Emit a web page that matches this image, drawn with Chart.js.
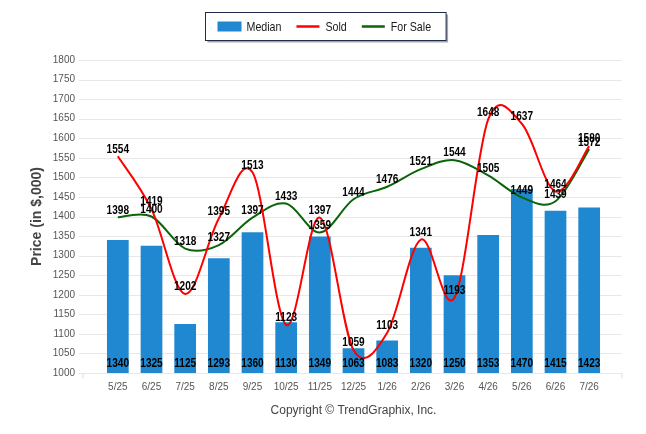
<!DOCTYPE html>
<html lang="en">
<head>
<meta charset="UTF-8">
<title>Price chart</title>
<style>
    html, body { margin: 0; padding: 0; background: #fff; }
    #caja { width: 646px; height: 434px; }
</style>
</head>
<body>
<div id="caja"><canvas id="grafica"></canvas></div>
<script src="https://cdn.jsdelivr.net/npm/chart.js"></script>
<script>
    // datos
    const meses = ['5/25', '6/25', '7/25', '8/25', '9/25', '10/25', '11/25', '12/25', '1/26', '2/26', '3/26', '4/26', '5/26', '6/26', '7/26'];
    const mediana = [1340, 1325, 1125, 1293, 1360, 1130, 1349, 1063, 1083, 1320, 1250, 1353, 1470, 1415, 1423];
    const vendidas = [1554, 1419, 1202, 1395, 1513, 1123, 1397, 1059, 1103, 1341, 1193, 1648, 1637, 1464, 1580];
    const enVenta = [1398, 1400, 1318, 1327, 1397, 1433, 1359, 1444, 1476, 1521, 1544, 1505, 1449, 1439, 1572];
    const yMin = 1000, yMax = 1800, yPaso = 50;

    const fuente = '"Liberation Sans", Arial, sans-serif';

    // texto algo comprimido (el original usa una letra estrecha)
    function textoEstrecho(ctx, txt, x, y, f) {
        ctx.save();
        ctx.translate(x, y);
        ctx.scale(f, 1);
        ctx.fillText(txt, 0, 0);
        ctx.restore();
    }

    // curva tipo catmull-rom: el original se pasa mas en los picos que la de Chart.js
    const curva = {
        id: 'curva',
        beforeDatasetDraw(chart, args) {
            const meta = args.meta;
            if (meta.type !== 'line') return;
            meta.dataset.updateControlPoints(chart.chartArea, 'x');
            const pts = meta.data;
            const n = pts.length;
            for (let i = 0; i < n; i++) {
                const a = pts[Math.max(i - 1, 0)];
                const b = pts[Math.min(i + 1, n - 1)];
                const dx = (b.x - a.x) / 6, dy = (b.y - a.y) / 6;
                pts[i].cp1x = pts[i].x - dx;
                pts[i].cp1y = pts[i].y - dy;
                pts[i].cp2x = pts[i].x + dx;
                pts[i].cp2y = pts[i].y + dy;
            }
        }
    };

    // lineas de la cuadricula un poco mas largas que el area
    const cuadricula = {
        id: 'cuadricula',
        beforeDatasetsDraw(chart) {
            const {ctx, chartArea} = chart;
            const y = chart.scales.y;
            const x0 = chartArea.left - 22, x1 = chartArea.right + 16;
            ctx.save();
            ctx.strokeStyle = '#e8e8e8';
            ctx.lineWidth = 1;
            for (let v = yMin; v <= yMax; v += yPaso) {
                const py = Math.round(y.getPixelForValue(v)) + 0.5;
                ctx.beginPath();
                ctx.moveTo(x0, py);
                ctx.lineTo(x1, py);
                ctx.stroke();
            }
            const pb = Math.round(chartArea.bottom) + 0.5;
            ctx.strokeStyle = '#dcdcdc';
            ctx.beginPath();
            ctx.moveTo(x0 + 4, pb); ctx.lineTo(x0 + 4, pb + 5);
            ctx.moveTo(x1, pb); ctx.lineTo(x1, pb + 5);
            ctx.stroke();
            ctx.restore();
        }
    };

    // numeros sobre barras y puntos
    const etiquetas = {
        id: 'etiquetas',
        afterDatasetsDraw(chart) {
            const {ctx, chartArea} = chart;
            ctx.save();
            ctx.font = 'bold 12px ' + fuente;
            ctx.fillStyle = '#000';
            ctx.textAlign = 'center';
            ctx.textBaseline = 'middle';
            chart.data.datasets.forEach((ds, i) => {
                const meta = chart.getDatasetMeta(i);
                meta.data.forEach((el, j) => {
                    const py = ds.type === 'bar' ? chartArea.bottom - 9 : el.y - 7;
                    textoEstrecho(ctx, String(ds.data[j]), el.x, py, 0.84);
                });
            });
            ctx.restore();
        }
    };

    // leyenda con marco, como en el original
    const leyenda = {
        id: 'leyenda',
        afterDraw(chart) {
            const ctx = chart.ctx;
            const f = 0.82;
            ctx.save();
            ctx.font = '13px ' + fuente;
            const items = chart.data.datasets.map(ds => ({
                texto: ds.label,
                tipo: ds.type,
                color: ds.type === 'bar' ? ds.backgroundColor : ds.borderColor,
                ancho: ctx.measureText(ds.label).width * f
            }));
            let total = 12 + 15;
            items.forEach((it, k) => { total += 29 + it.ancho + (k < items.length - 1 ? 15 : 0); });
            const bx = Math.round(325 - total / 2) + 0.5, by = 12.5, bh = 28;
            ctx.fillStyle = 'rgba(0,0,0,0.35)';
            ctx.fillRect(bx + 2, by + 2, total, bh);
            ctx.fillStyle = '#fff';
            ctx.fillRect(bx, by, total, bh);
            ctx.strokeStyle = '#1d2b4a';
            ctx.lineWidth = 1;
            ctx.strokeRect(bx, by, total, bh);
            let x = bx + 12;
            const cy = by + bh / 2;
            items.forEach(it => {
                if (it.tipo === 'bar') {
                    ctx.fillStyle = it.color;
                    ctx.fillRect(x, cy - 5, 24, 10);
                } else {
                    ctx.strokeStyle = it.color;
                    ctx.lineWidth = 2.5;
                    ctx.beginPath();
                    ctx.moveTo(x, cy);
                    ctx.lineTo(x + 23, cy);
                    ctx.stroke();
                }
                ctx.fillStyle = '#1a1a1a';
                ctx.textBaseline = 'middle';
                ctx.textAlign = 'left';
                textoEstrecho(ctx, it.texto, x + 29, cy + 1, f);
                x += 29 + it.ancho + 15;
            });
            ctx.restore();
        }
    };

    const ctx = document.getElementById('grafica').getContext('2d');
    const grafica = new Chart(ctx, {
        data: {
            labels: meses,
            datasets: [
                {
                    type: 'bar',
                    label: 'Median',
                    data: mediana,
                    backgroundColor: '#1f88d0',
                    borderWidth: 0,
                    barPercentage: 0.645,
                    categoryPercentage: 1,
                    order: 3
                },
                {
                    type: 'line',
                    label: 'Sold',
                    data: vendidas,
                    borderColor: '#ff0000',
                    borderWidth: 2,
                    pointRadius: 0,
                    tension: 0.4,
                    order: 1
                },
                {
                    type: 'line',
                    label: 'For Sale',
                    data: enVenta,
                    borderColor: '#0a640a',
                    borderWidth: 2,
                    pointRadius: 0,
                    tension: 0.4,
                    order: 2
                }
            ]
        },
        options: {
            responsive: true,
            maintainAspectRatio: false,
            animation: false,
            layout: { padding: { top: 60, right: 40, left: 0, bottom: 0 } },
            plugins: {
                legend: { display: false },
                tooltip: { enabled: false }
            },
            scales: {
                x: {
                    grid: { display: false, drawTicks: false },
                    border: { display: false },
                    ticks: { color: '#555', font: { family: fuente, size: 10 }, padding: 8, maxRotation: 0 },
                    title: {
                        display: true,
                        text: 'Copyright \u00a9 TrendGraphix, Inc.',
                        color: '#444',
                        font: { family: fuente, size: 12 },
                        padding: { top: 0, bottom: 16 }
                    },
                    afterFit(s) { s.height = 61; }
                },
                y: {
                    min: yMin,
                    max: yMax,
                    grid: { display: false, drawTicks: false },
                    border: { display: false },
                    ticks: {
                        stepSize: yPaso,
                        color: '#555',
                        font: { family: fuente, size: 10 },
                        padding: 26,
                        callback: v => String(v)
                    },
                    title: {
                        display: true,
                        text: 'Price (in $,000)',
                        color: '#444',
                        font: { family: fuente, size: 14, weight: 'bold' },
                        padding: { top: 29 }
                    },
                    afterFit(s) { s.width = 101; }
                }
            }
        },
        plugins: [curva, cuadricula, etiquetas, leyenda]
    });
</script>
</body>
</html>
